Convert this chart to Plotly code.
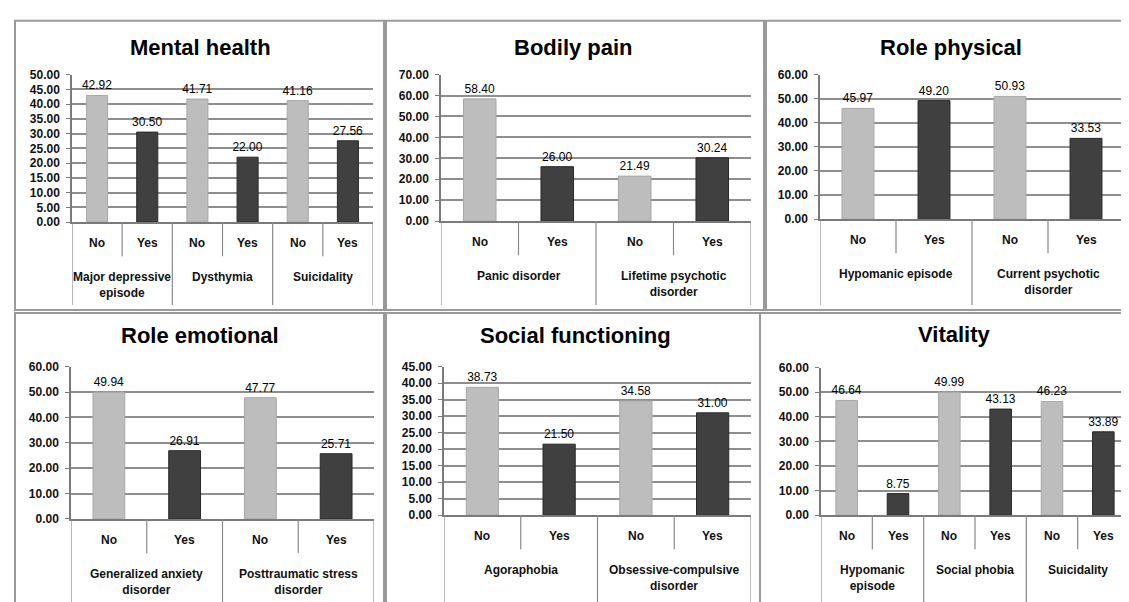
import plotly.graph_objects as go

W, H = 1129, 602

# ---------------- data ----------------
titles = ["Mental health", "Bodily pain", "Role physical",
          "Role emotional", "Social functioning", "Vitality"]
sub_labels = ["No", "Yes"]

mh_groups = ["Major depressive<br>episode", "Dysthymia", "Suicidality"]
mh_no = [42.92, 41.71, 41.16]
mh_yes = [30.50, 22.00, 27.56]

bp_groups = ["Panic disorder", "Lifetime psychotic<br>disorder"]
bp_no = [58.40, 21.49]
bp_yes = [26.00, 30.24]

rp_groups = ["Hypomanic episode", "Current psychotic<br>disorder"]
rp_no = [45.97, 50.93]
rp_yes = [49.20, 33.53]

re_groups = ["Generalized anxiety<br>disorder", "Posttraumatic stress<br>disorder"]
re_no = [49.94, 47.77]
re_yes = [26.91, 25.71]

sf_groups = ["Agoraphobia", "Obsessive-compulsive<br>disorder"]
sf_no = [38.73, 34.58]
sf_yes = [21.50, 31.00]

vt_groups = ["Hypomanic<br>episode", "Social phobia", "Suicidality"]
vt_no = [46.64, 49.99, 46.23]
vt_yes = [8.75, 43.13, 33.89]

y_max = [50, 70, 60, 60, 45, 60]
y_step = [5, 10, 10, 10, 5, 10]

# ---------------- layout (pixels) ----------------
# plot area: left, right, top(max gridline), bottom(zero line)
areas = [(64, 365, 61, 212), (433, 743, 61, 211), (812, 1116, 61, 209),
         (63, 366, 360, 516), (436, 743, 360, 512), (813, 1121, 361, 512)]
title_pos = [(192, 33), (565, 33), (943, 33), (192, 328), (567, 328), (947, 327)]
panel_boxes = [(7, 376, 6, 302), (378, 756, 6, 302), (758, 1125, 6, 302),
               (7, 376, 305, 640), (378, 752, 305, 640), (752, 1140, 305, 640)]
table_bottom = [297, 297, 297, 640, 640, 640]

LIGHT = "#bdbdbd"
LIGHT_EDGE = "#a8a8a8"
DARK = "#404040"
DARK_EDGE = "#2a2a2a"
GRID = "#8e8e8e"
LINE = "#8a8a8a"
FONT = "Liberation Sans"


def px(x):
    return x / W


def py(y):
    return 1 - y / H


panels = [(mh_groups, mh_no, mh_yes), (bp_groups, bp_no, bp_yes),
          (rp_groups, rp_no, rp_yes), (re_groups, re_no, re_yes),
          (sf_groups, sf_no, sf_yes), (vt_groups, vt_no, vt_yes)]

fig = go.Figure()
shapes = []
annotations = []
layout = {}

for k, (groups, no_vals, yes_vals) in enumerate(panels):
    idx = k + 1
    sfx = "" if idx == 1 else str(idx)
    xa, ya = "x" + sfx, "y" + sfx
    left, right, top, zero = areas[k]

    xs, ys, cols, edges, texts = [], [], [], [], []
    for g in range(len(groups)):
        for s, v in enumerate((no_vals[g], yes_vals[g])):
            xs.append(2 * g + s)
            ys.append(v)
            cols.append(LIGHT if s == 0 else DARK)
            edges.append(LIGHT_EDGE if s == 0 else DARK_EDGE)
            texts.append(f"{v:.2f}")
    n = len(xs)

    fig.add_trace(go.Bar(
        x=xs, y=ys, xaxis=xa, yaxis=ya, width=0.42,
        marker=dict(color=cols, line=dict(color=edges, width=1)),
        text=texts, textposition="outside", cliponaxis=False,
        constraintext="none",
        textfont=dict(family=FONT, size=12, color="#000"),
        showlegend=False, hoverinfo="skip"))

    layout["xaxis" + sfx] = dict(
        domain=[px(left), px(right)], range=[-0.5, n - 0.5], anchor=ya,
        showticklabels=False, showgrid=False, zeroline=False,
        showline=True, linecolor="#7a7a7a", linewidth=1.5, fixedrange=True)
    layout["yaxis" + sfx] = dict(
        domain=[py(zero), py(top)], range=[0, y_max[k]], dtick=y_step[k],
        anchor=xa, tickformat=".2f", showgrid=True, gridcolor=GRID,
        gridwidth=1.5, zeroline=False, showline=True, linecolor="#7a7a7a",
        linewidth=1.5, ticks="outside", ticklen=4, tickcolor="#7a7a7a",
        ticklabelstandoff=4,
        tickfont=dict(family=FONT, size=12, color="#111", weight="bold"),
        fixedrange=True)

    # category table: separators
    for b in range(n + 1):
        xb = b - 0.5
        long_line = (b % 2 == 0)
        y1 = table_bottom[k] if long_line else zero + 35
        shapes.append(dict(type="line", xref=xa, yref="paper",
                           x0=xb, x1=xb, y0=py(zero), y1=py(y1),
                           line=dict(color=LINE, width=1.2)))
    # sub labels
    for i in range(n):
        annotations.append(dict(
            xref=xa, yref="paper", x=i, y=py(zero + 21), text=sub_labels[i % 2],
            showarrow=False, yanchor="middle",
            font=dict(family=FONT, size=12, color="#111", weight="bold")))
    # group labels
    for g, name in enumerate(groups):
        annotations.append(dict(
            xref=xa, yref="paper", x=2 * g + 0.5, y=py(zero + 47), text=name,
            showarrow=False, yanchor="top", align="center",
            font=dict(family=FONT, size=12, color="#111", weight="bold")))

    # title
    tx, ty = title_pos[k]
    annotations.append(dict(
        xref="paper", yref="paper", x=px(tx), y=py(ty), text=titles[k],
        showarrow=False, xanchor="center", yanchor="middle",
        font=dict(family=FONT, size=22, color="#000", weight="bold")))

    # panel frame
    x0, x1, y0, y1 = panel_boxes[k]
    shapes.append(dict(type="rect", xref="paper", yref="paper",
                       x0=px(x0), x1=px(x1), y0=py(y0), y1=py(y1),
                       line=dict(color="#9a9a9a", width=2), layer="below"))

fig.update_layout(
    width=W, height=H, margin=dict(l=0, r=0, t=0, b=0),
    paper_bgcolor="white", plot_bgcolor="white",
    shapes=shapes, annotations=annotations, showlegend=False,
    **layout)

fig.write_html("out.html", config={"displayModeBar": False})
